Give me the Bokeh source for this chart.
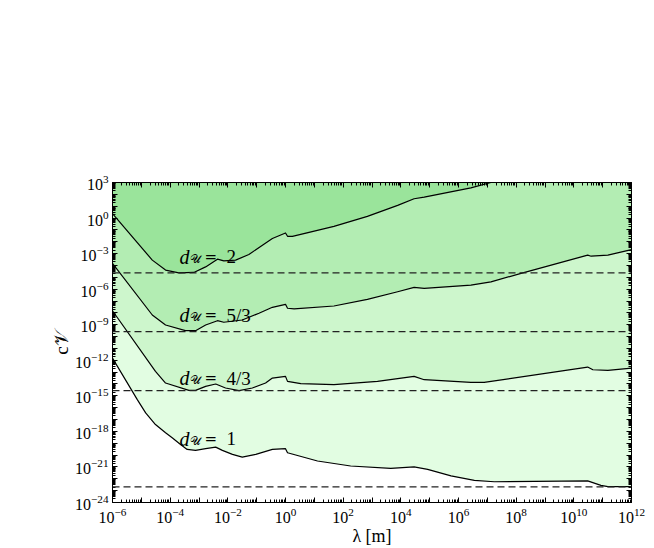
import numpy as np
from bokeh.plotting import figure
from bokeh.models import Range1d, FixedTicker, LogAxis, Span, Label
from bokeh.embed import file_html
from bokeh.resources import INLINE

# ---- data (log10 values) ----
# d_U = 2
d2_loglam = [-6.0, -4.62, -4.16, -3.70, -3.18, -2.77, -2.36, -2.14, -1.73, -1.27, -0.80,
             -0.455, 0.0, 0.07, 0.24, 1.68, 2.84, 3.89, 4.46, 4.81, 6.43, 7.125]
d2_logc = [0.37, -3.55, -4.39, -4.62, -4.59, -4.12, -3.47, -3.61, -3.55, -3.08, -2.29,
           -1.73, -1.26, -1.54, -1.54, -0.70, 0.14, 1.07, 1.63, 1.76, 2.55, 3.0]
# d_U = 5/3
d53_loglam = [-6.0, -4.62, -4.16, -3.47, -3.12, -2.77, -2.36, -2.14, -1.50, -0.92, -0.455,
              0.0, 0.07, 0.30, 1.68, 2.84, 3.89, 4.46, 4.81, 6.43, 7.125, 8.17, 10.48,
              10.60, 11.18, 12.0]
d53_logc = [-3.83, -8.18, -9.02, -9.5, -9.5, -9.02, -8.66, -8.79, -8.60, -8.03, -7.53,
            -7.28, -7.61, -7.67, -7.42, -6.86, -6.22, -5.85, -5.93, -5.66, -5.38, -4.67,
            -3.13, -3.22, -3.13, -2.66]
# d_U = 4/3
d43_loglam = [-6.0, -4.51, -4.16, -3.35, -3.12, -2.77, -2.42, -2.08, -1.61, -1.15, -0.69,
              -0.455, 0.0, 0.07, 0.53, 1.68, 3.19, 4.46, 4.81, 6.43, 6.89, 10.48, 10.66,
              11.18, 12.0]
d43_logc = [-7.82, -12.94, -13.92, -14.54, -14.54, -14.2, -14.0, -14.34, -14.56, -14.34,
            -13.92, -13.5, -13.36, -13.78, -13.97, -14.06, -13.78, -13.36, -13.64, -13.87,
            -13.87, -12.57, -12.8, -12.86, -12.66]
# d_U = 1
d1_loglam = [-6.0, -5.14, -4.85, -4.51, -4.16, -3.93, -3.64, -3.41, -3.12, -2.77, -2.42,
             -2.19, -1.84, -1.50, -1.03, -0.455, 0.0, 0.07, 1.11, 2.26, 3.65, 4.46, 4.93,
             5.74, 6.55, 7.24, 10.48, 10.94, 11.18, 12.0]
d1_logc = [-11.82, -15.32, -16.44, -17.42, -18.12, -18.54, -19.1, -19.52, -19.6, -19.46,
           -19.33, -19.6, -19.94, -20.17, -19.94, -19.52, -19.46, -19.8, -20.5, -20.92,
           -21.12, -20.99, -21.2, -21.76, -22.13, -22.25, -22.18, -22.55, -22.66, -22.66]

dashed_logc = [-4.62, -9.58, -14.56, -22.69]

curve_names = ["2", "5/3", "4/3", "1"]
label_logc = [-3.28, -8.18, -13.5, -18.62]
label_loglam = -3.674

x_exps = list(range(-6, 13))
y_exps = list(range(-24, 4))
x_label_exps = [e for e in x_exps if e % 2 == 0]
y_label_exps = [e for e in y_exps if e % 3 == 0]

fills = ["#9ae49b", "#b3edb3", "#cdf6cc", "#e2fde2"]

# ---- figure ----
TOP = 1e3
p = figure(x_axis_type="log", y_axis_type="log",
           x_range=Range1d(1e-6, 1e12), y_range=Range1d(1e-24, TOP),
           width=646, height=548,
           min_border_left=112, min_border_top=182, min_border_right=15,
           min_border_bottom=45,
           output_backend="svg", toolbar_location=None,
           background_fill_color="white", border_fill_color="white",
           outline_line_color="black")
p.grid.visible = False

curves = [(d2_loglam, d2_logc), (d53_loglam, d53_logc),
          (d43_loglam, d43_logc), (d1_loglam, d1_logc)]

# fills, painted from the lowest curve upward
for (lx, ly), col in reversed(list(zip(curves, fills))):
    xs = 10.0 ** np.array(lx)
    ys = 10.0 ** np.array(ly)
    p.varea(x=xs, y1=ys, y2=np.full(len(xs), TOP), fill_color=col, fill_alpha=1.0)

for lx, ly in curves:
    p.line(10.0 ** np.array(lx), 10.0 ** np.array(ly), line_color="black",
           line_width=1.2, line_join="round")

for v in dashed_logc:
    p.add_layout(Span(location=10.0 ** v, dimension="width", line_color="#222222",
                      line_width=1.3, line_dash="7 4"))

SERIF = "Liberation Serif"
for name, ly in zip(curve_names, label_logc):
    x0, y0 = 10.0 ** label_loglam, 10.0 ** ly
    common = dict(x=x0, y=y0, text_baseline="alphabetic", text_align="left",
                  text_color="black")
    p.add_layout(Label(text="d", text_font=SERIF, text_font_style="italic",
                       text_font_size="20px", **common))
    p.add_layout(Label(text="\U0001D4B0", text_font=SERIF, x_offset=10, y_offset=-2,
                       text_font_size="12px", **common))
    p.add_layout(Label(text="=", text_font="DejaVu Serif", x_offset=25,
                       text_font_size="15px", **common))
    p.add_layout(Label(text=name, text_font=SERIF, x_offset=47,
                       text_font_size="19px", **common))

# ---- axes ----
x_ticks = [10.0 ** e for e in x_exps]
x_minor = [m * 10.0 ** e for e in x_exps[:-1] for m in range(2, 10)]
y_ticks = [10.0 ** e for e in y_exps]
y_minor = [m * 10.0 ** e for e in y_exps[:-1] for m in range(2, 10)]

x_over = {10.0 ** e: "" for e in x_exps if e not in x_label_exps}
y_over = {10.0 ** e: "" for e in y_exps if e not in y_label_exps}


def style(ax):
    ax.axis_line_color = "black"
    ax.major_tick_line_color = "black"
    ax.minor_tick_line_color = "black"
    ax.major_tick_in = 5
    ax.major_tick_out = 0
    ax.minor_tick_in = 3
    ax.minor_tick_out = 0
    ax.major_label_text_font = SERIF
    ax.major_label_text_font_size = "16px"
    ax.major_label_text_color = "black"
    ax.axis_label_text_font = SERIF
    ax.axis_label_text_font_style = "normal"
    ax.axis_label_text_color = "black"


xa = p.xaxis[0]
xa.ticker = FixedTicker(ticks=x_ticks, minor_ticks=x_minor)
xa.major_label_overrides = x_over
xa.major_label_standoff = 5
xa.axis_label = "\u03bb [m]"
style(xa)
xa.axis_label_text_font_size = "18px"
xa.axis_label_standoff = 0

ya = p.yaxis[0]
ya.ticker = FixedTicker(ticks=y_ticks, minor_ticks=y_minor)
ya.major_label_overrides = y_over
ya.major_label_standoff = 4
ya.axis_label = "c\U0001D4B1"
style(ya)
ya.axis_label_text_font_size = "19px"
ya.axis_label_standoff = 0

top = LogAxis(ticker=FixedTicker(ticks=x_ticks, minor_ticks=x_minor),
              major_label_overrides={t: "" for t in x_ticks})
style(top)
p.add_layout(top, "above")
right = LogAxis(ticker=FixedTicker(ticks=y_ticks, minor_ticks=y_minor),
                major_label_overrides={t: "" for t in y_ticks})
style(right)
p.add_layout(right, "right")

open("out.html", "w").write(file_html(p, INLINE))
